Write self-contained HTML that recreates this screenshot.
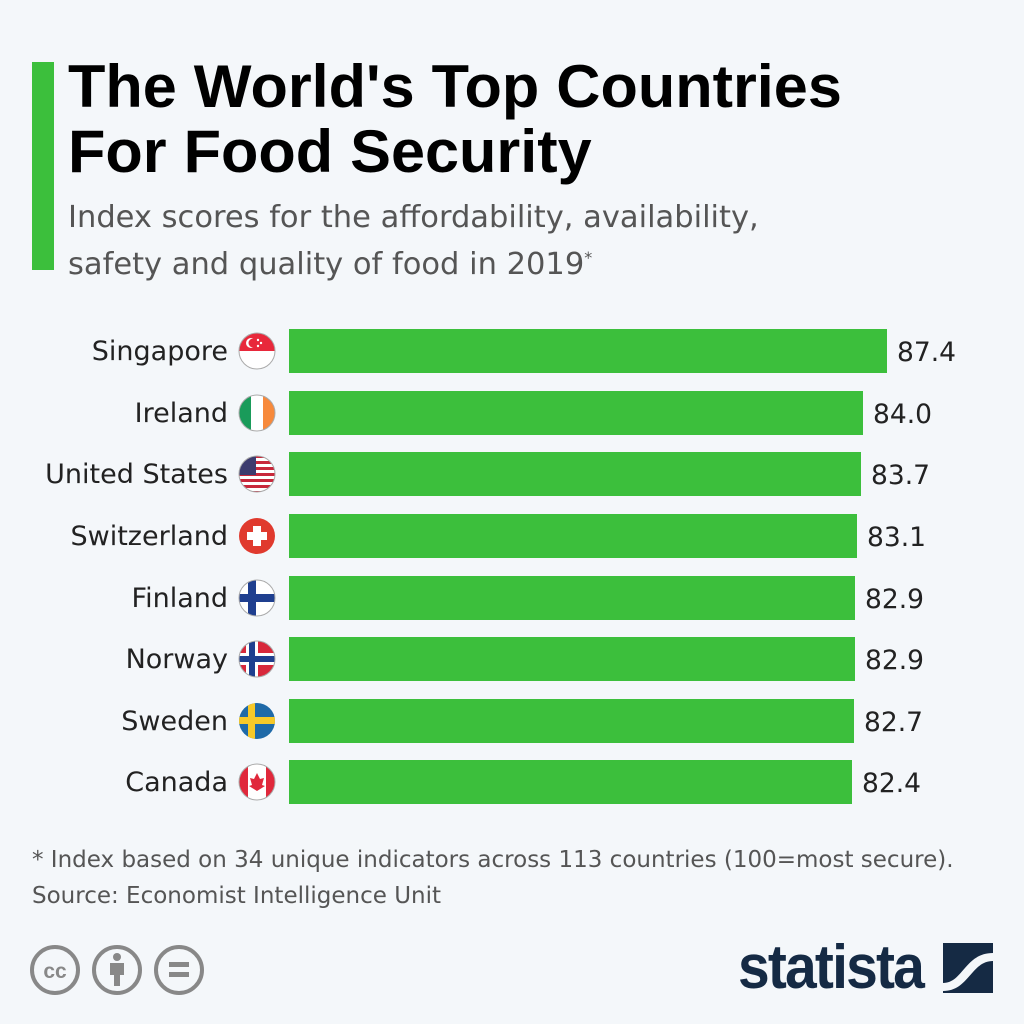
<!DOCTYPE html>
<html><head><meta charset="utf-8"><style>
body{margin:0;width:1024px;height:1024px;background:#f4f7fa;font-family:"DejaVu Sans","Liberation Sans",sans-serif;position:relative;overflow:hidden}
.gb{position:absolute;left:32px;top:62px;width:22px;height:208px;background:#3cbf3c}
.t{position:absolute;left:68px;top:54px;font-family:"Liberation Sans",sans-serif;font-size:60px;font-weight:bold;line-height:65px;color:#000;transform:scaleX(1.02);transform-origin:left;white-space:nowrap}
.s{position:absolute;left:68px;top:198px;font-size:30.5px;line-height:40px;color:#555;white-space:nowrap}
.row{position:absolute;left:0;height:44px;width:1024px}
.lab{position:absolute;right:796px;top:7px;font-size:27px;color:#222;white-space:nowrap}
.bar{position:absolute;left:289px;top:0;height:44px;background:#3cbf3c}
.val{position:absolute;top:8px;font-size:26.5px;color:#222}
.fl{position:absolute;left:238px;top:3px}
.f{position:absolute;left:32px;font-size:23px;color:#555;white-space:nowrap}
</style></head><body>
<div class="gb"></div>
<div class="t">The World's Top Countries<br>For Food Security</div>
<div class="s">Index scores for the affordability, availability,<br>safety and quality of food in 2019<sup style="font-size:16px">*</sup></div>
<svg width="0" height="0" style="position:absolute"><defs><clipPath id="c"><circle cx="19" cy="19" r="18"/></clipPath></defs></svg>

<div class="row" style="top:329px"><div class="lab">Singapore</div>
<svg class="fl" width="38" height="38"><g clip-path="url(#c)"><rect width="38" height="19" fill="#e8283b"/><rect y="19" width="38" height="19" fill="#fff"/><circle cx="13" cy="11" r="5" fill="#fff"/><circle cx="15" cy="11" r="4.5" fill="#e8283b"/><circle cx="20" cy="8" r="1.2" fill="#fff"/><circle cx="23" cy="11" r="1.2" fill="#fff"/><circle cx="20" cy="14" r="1.2" fill="#fff"/></g><circle cx="19" cy="19" r="18" fill="none" stroke="#aaa"/></svg>
<div class="bar" style="width:598px"></div><div class="val" style="left:897px">87.4</div></div>

<div class="row" style="top:391px"><div class="lab">Ireland</div>
<svg class="fl" width="38" height="38"><g clip-path="url(#c)"><rect width="13" height="38" fill="#1a9b5a"/><rect x="13" width="12" height="38" fill="#fff"/><rect x="25" width="13" height="38" fill="#f7893b"/></g><circle cx="19" cy="19" r="18" fill="none" stroke="#aaa"/></svg>
<div class="bar" style="width:574px"></div><div class="val" style="left:873px">84.0</div></div>

<div class="row" style="top:452px"><div class="lab">United States</div>
<svg class="fl" width="38" height="38"><g clip-path="url(#c)"><rect width="38" height="38" fill="#fff"/><g fill="#c8283b"><rect y="0" width="38" height="3"/><rect y="6" width="38" height="3"/><rect y="12" width="38" height="3"/><rect y="18" width="38" height="3"/><rect y="24" width="38" height="3"/><rect y="30" width="38" height="3"/><rect y="36" width="38" height="3"/></g><rect width="18" height="20" fill="#3c3b6e"/></g><circle cx="19" cy="19" r="18" fill="none" stroke="#aaa"/></svg>
<div class="bar" style="width:572px"></div><div class="val" style="left:871px">83.7</div></div>

<div class="row" style="top:514px"><div class="lab">Switzerland</div>
<svg class="fl" width="38" height="38"><circle cx="19" cy="19" r="18" fill="#e03a2e"/><rect x="15" y="9" width="8" height="20" fill="#fff"/><rect x="9" y="15" width="20" height="8" fill="#fff"/></svg>
<div class="bar" style="width:568px"></div><div class="val" style="left:867px">83.1</div></div>

<div class="row" style="top:576px"><div class="lab">Finland</div>
<svg class="fl" width="38" height="38"><g clip-path="url(#c)"><rect width="38" height="38" fill="#fff"/><rect x="10" width="8" height="38" fill="#1f3f8f"/><rect y="15" width="38" height="8" fill="#1f3f8f"/></g><circle cx="19" cy="19" r="18" fill="none" stroke="#aaa"/></svg>
<div class="bar" style="width:566px"></div><div class="val" style="left:865px">82.9</div></div>

<div class="row" style="top:637px"><div class="lab">Norway</div>
<svg class="fl" width="38" height="38"><g clip-path="url(#c)"><rect width="38" height="38" fill="#d8283b"/><rect x="8" width="12" height="38" fill="#fff"/><rect y="13" width="38" height="12" fill="#fff"/><rect x="11" width="6" height="38" fill="#1f3f8f"/><rect y="16" width="38" height="6" fill="#1f3f8f"/></g><circle cx="19" cy="19" r="18" fill="none" stroke="#aaa"/></svg>
<div class="bar" style="width:566px"></div><div class="val" style="left:865px">82.9</div></div>

<div class="row" style="top:699px"><div class="lab">Sweden</div>
<svg class="fl" width="38" height="38"><g clip-path="url(#c)"><rect width="38" height="38" fill="#1f6aa8"/><rect x="10" width="7" height="38" fill="#f7c928"/><rect y="15" width="38" height="7" fill="#f7c928"/></g></svg>
<div class="bar" style="width:565px"></div><div class="val" style="left:864px">82.7</div></div>

<div class="row" style="top:760px"><div class="lab">Canada</div>
<svg class="fl" width="38" height="38"><g clip-path="url(#c)"><rect width="38" height="38" fill="#fff"/><rect width="10" height="38" fill="#e0283b"/><rect x="28" width="10" height="38" fill="#e0283b"/><path d="M19 10 L22 16 L26 15 L24 22 L27 23 L19 28 L11 23 L14 22 L12 15 L16 16 Z" fill="#e0283b"/></g><circle cx="19" cy="19" r="18" fill="none" stroke="#aaa"/></svg>
<div class="bar" style="width:563px"></div><div class="val" style="left:862px">82.4</div></div>

<div class="f" style="top:847px">* Index based on 34 unique indicators across 113 countries (100=most secure).</div>
<div class="f" style="top:883px">Source: Economist Intelligence Unit</div>

<svg style="position:absolute;left:30px;top:943px" width="180" height="54">
<g fill="none" stroke="#888" stroke-width="4"><circle cx="25" cy="27" r="23"/><circle cx="87" cy="27" r="23"/><circle cx="149" cy="27" r="23"/></g>
<text x="25" y="35" font-size="21" font-weight="bold" fill="#888" text-anchor="middle" font-family="Liberation Sans">cc</text>
<circle cx="87" cy="14" r="4" fill="#888"/><rect x="80" y="20" width="14" height="12" fill="#888"/><rect x="84" y="30" width="6" height="13" fill="#888"/>
<rect x="139" y="19" width="20" height="5" fill="#888"/><rect x="139" y="29" width="20" height="5" fill="#888"/>
</svg>
<div style="position:absolute;left:738px;top:932px;font-family:'Liberation Sans',sans-serif;font-size:62px;font-weight:bold;color:#152a44;letter-spacing:-2px;transform:scaleX(0.92);transform-origin:left">statista</div>
<svg style="position:absolute;left:943px;top:943px" width="50" height="50"><rect width="50" height="50" fill="#152a44"/><path d="M0 40 C20 40 22 10 50 10 L50 18 C28 18 26 48 0 48Z" fill="#f4f7fa"/></svg>
</body></html>
